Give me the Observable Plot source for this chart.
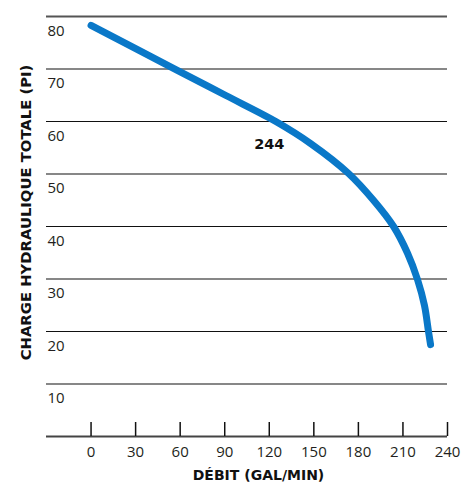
<!DOCTYPE html>
<html>
<head>
<meta charset="utf-8">
<script src="https://cdn.jsdelivr.net/npm/d3@7"></script>
<script src="https://cdn.jsdelivr.net/npm/@observablehq/plot@0.6"></script>
<style>
  html, body { margin: 0; padding: 0; background: #fff; }
  svg { display: block; }
</style>
</head>
<body>
<div id="chart"></div>
<script>
// Pump curve (model 244)
const flowGpm = [0, 57.1, 90.8, 124.4, 147.9, 173.4, 190.3, 203.7, 213.1, 219.8, 224.5, 227.2, 228.6];
const headFt  = [78.3, 69.9, 64.95, 60, 55.8, 50.1, 44.95, 40, 34.9, 29.9, 24.95, 20, 17.5];
const xTicks = [0, 30, 60, 90, 120, 150, 180, 210, 240];
const yTicks = [10, 20, 30, 40, 50, 60, 70, 80];
const seriesLabel = "244";
const xTitle = "DÉBIT (GAL/MIN)";
const yTitle = "CHARGE HYDRAULIQUE TOTALE (PI)";

const curve = flowGpm.map((x, i) => ({x, y: headFt[i]}));
const font = "'Open Sans', Lato, sans-serif";
const boldFont = "'DejaVu Sans', 'Open Sans', sans-serif";
const tickLen = 14 * 80 / 420; // 14px expressed in y units

const chart = Plot.plot({
  width: 471,
  height: 487,
  marginLeft: 46,
  marginRight: 24,
  marginTop: 16,
  marginBottom: 51,
  style: {fontFamily: font, background: "#fff"},
  x: {domain: [-30, 240], axis: null},
  y: {domain: [0, 80], axis: null},
  marks: [
    Plot.ruleY(yTicks.filter(d => d !== 80), {stroke: "#111", strokeWidth: 1.2}),
    Plot.ruleY([80], {stroke: "#555", strokeWidth: 2}),
    Plot.ruleY([0], {stroke: "#444", strokeWidth: 1.8}),
    Plot.ruleX(xTicks, {x: d => d, y1: 0, y2: tickLen, stroke: "#111", strokeWidth: 1.5}),
    Plot.text(yTicks, {x: -30, y: d => d, text: d => String(d), textAnchor: "start", dx: 1, dy: 14.5, fontSize: 15, fill: "#231f20"}),
    Plot.text(xTicks, {x: d => d, y: 0, text: d => String(d), dy: 16, fontSize: 15, fill: "#231f20"}),
    Plot.line(curve, {x: "x", y: "y", stroke: "#0a78c8", strokeWidth: 7, strokeLinecap: "round", strokeLinejoin: "round", curve: "catmull-rom"}),
    Plot.text([seriesLabel], {x: 120, y: 55.6, text: d => d, fontFamily: boldFont, fontWeight: "bold", fontSize: 14.5, fill: "#111"}),
    Plot.text([xTitle], {frameAnchor: "bottom", textAnchor: "middle", text: d => d, dx: 11.5, dy: 43, fontFamily: boldFont, fontWeight: "bold", fontSize: 14, fill: "#111"}),
    Plot.text([yTitle], {frameAnchor: "left", textAnchor: "middle", text: d => d, rotate: -90, dx: -20, dy: -14, fontFamily: boldFont, fontWeight: "bold", fontSize: 14.8, fill: "#111"})
  ]
});
document.getElementById("chart").appendChild(chart);
</script>
</body>
</html>
